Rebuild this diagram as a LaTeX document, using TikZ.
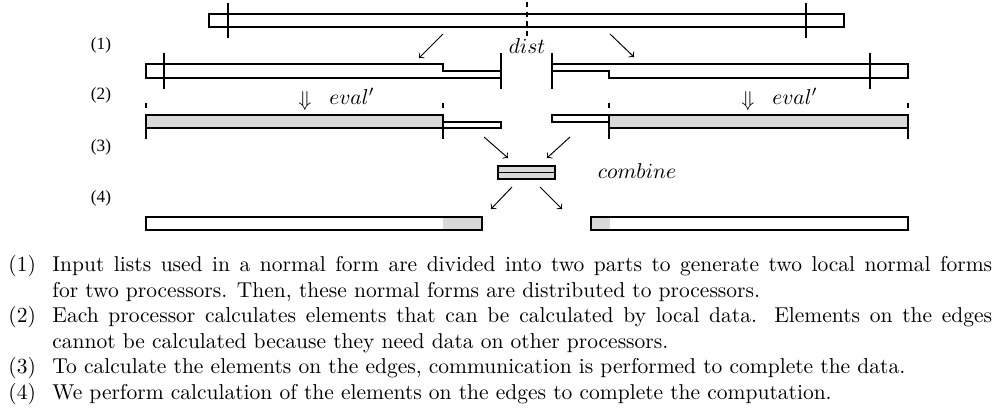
\documentclass[tikz,border=0pt]{standalone}
\usepackage{fontspec}
\newfontfamily\tnr{Liberation Serif}
\begin{document}
\begin{tikzpicture}[x=0.465pt,y=-0.465pt,
  bar/.style={draw, line width=0.5pt},
  tickln/.style={line width=0.8pt},
  dtick/.style={line width=0.8pt, dash pattern=on 2.5pt off 2pt},
  arr/.style={->, line width=0.45pt},
  shade/.style={fill=gray!30},
  lab/.style={font=\tnr\fontsize{8}{9}\selectfont, inner sep=0pt},
  captxt/.style={font=\fontsize{10}{12}\selectfont, inner sep=0pt, anchor=base west},
  mlab/.style={inner sep=0pt, anchor=base}]
\useasboundingbox (0,0) rectangle (996,410);

% top bar
\draw[bar] (209,14) rectangle (844,27);
\draw[tickln] (228,3) -- (228,38);
\draw[tickln] (806,3) -- (806,38);
\draw[dtick] (527,2) -- (527,38);
\node[mlab] (dist) at (527,53) {$dist$};

% row labels
\node[lab] (r1) at (101,45) {(1)};
\node[lab] (r2) at (101,95) {(2)};
\node[lab] (r3) at (101,147) {(3)};
\node[lab] (r4) at (101,198) {(4)};

% row 1
\coordinate (a1s) at (443,34); \coordinate (a1e) at (419,58);
\coordinate (a2s) at (610,34); \coordinate (a2e) at (634,57);
\draw[arr] (a1s) -- (a1e);
\draw[arr] (a2s) -- (a2e);
\draw[bar] (146,64) -- (443,64) -- (443,71) -- (501,71) -- (501,78) -- (146,78) -- cycle;
\draw[tickln] (164,53) -- (164,89);
\draw[tickln] (501,53) -- (501,89);
\draw[bar] (552,64) -- (908,64) -- (908,78) -- (609,78) -- (609,71) -- (552,71) -- cycle;
\draw[tickln] (552,53) -- (552,89);
\draw[tickln] (870,53) -- (870,89);

% row 2
\node (dl) at (305,101) {$\Downarrow$};
\node[mlab] (el) at (352,104) {$eval'$};
\node (dr) at (748,101) {$\Downarrow$};
\node[mlab] (er) at (795,104) {$eval'$};
\draw[bar, shade] (146,115) rectangle (443,128);
\draw[bar] (443,122) rectangle (501,128);
\draw[bar] (552,115) rectangle (609,122);
\draw[bar, shade] (609,115) rectangle (908,128);
\foreach \xx in {146,443,609,908}{
  \draw[tickln] (\xx,103) -- (\xx,108);
  \draw[tickln] (\xx,129) -- (\xx,139);
}

% row 3
\coordinate (b1s) at (484,137); \coordinate (b1e) at (508,158);
\coordinate (b2s) at (570,137); \coordinate (b2e) at (547,158);
\draw[arr] (b1s) -- (b1e);
\draw[arr] (b2s) -- (b2e);
\draw[bar, shade] (498,166) rectangle (555,172.5);
\draw[bar, shade] (498,172.5) rectangle (555,179);
\node[mlab] (comb) at (637,178) {$combine$};

% row 4
\coordinate (c1s) at (512,187); \coordinate (c1e) at (491,209);
\coordinate (c2s) at (540,187); \coordinate (c2e) at (562,209);
\draw[arr] (c1s) -- (c1e);
\draw[arr] (c2s) -- (c2e);
\fill[shade] (443,217) rectangle (482,230);
\draw[bar] (146,217) rectangle (482,230);
\fill[shade] (591,217) rectangle (610,230);
\draw[bar] (591,217) rectangle (908,230);

% caption
\node[captxt] (n1) at (8,271.5) {(1)};
\node[captxt] (t1) at (52,271.5) {\hbox to 437pt{Input lists used in a normal form are divided into two parts to generate two local normal forms}};
\node[captxt] (t1b) at (52,297.1) {for two processors. Then, these normal forms are distributed to processors.};
\node[captxt] (n2) at (8,322.7) {(2)};
\node[captxt] (t2) at (52,322.7) {\hbox to 437pt{Each processor calculates elements that can be calculated by local data. Elements on the edges}};
\node[captxt] (t2b) at (52,348.3) {cannot be calculated because they need data on other processors.};
\node[captxt] (n3) at (8,373.9) {(3)};
\node[captxt] (t3) at (52,373.9) {To calculate the elements on the edges, communication is performed to complete the data.};
\node[captxt] (n4) at (8,399.5) {(4)};
\node[captxt] (t4) at (52,399.5) {We perform calculation of the elements on the edges to complete the computation.};
\end{tikzpicture}
\end{document}
